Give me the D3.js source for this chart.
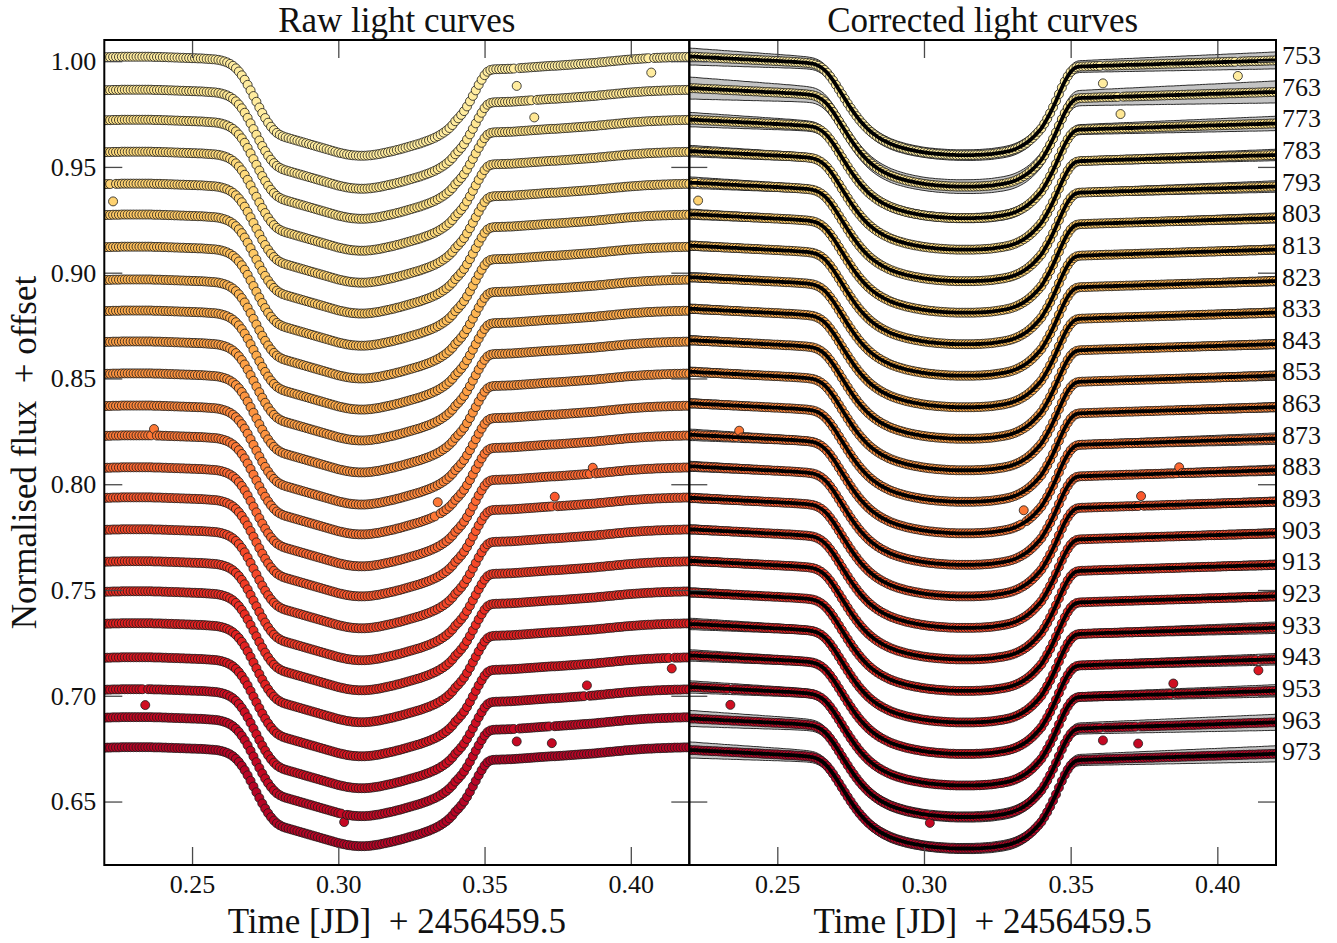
<!DOCTYPE html>
<html>
<head>
<meta charset="utf-8">
<script src="https://cdn.jsdelivr.net/npm/d3@7"></script>
<style>
  body { margin: 0; background: #fff; }
  text { font-family: "Liberation Serif", "DejaVu Serif", serif; fill: #111; }
</style>
</head>
<body>
<svg id="chart" width="1337" height="943"></svg>
<script>
// ---------------- DATA ----------------
const wavelengths = [753, 763, 773, 783, 793, 803, 813, 823, 833, 843, 853, 863,
                     873, 883, 893, 903, 913, 923, 933, 943, 953, 963, 973];

// flux level of each raw light curve at the start of the window (incl. offset)
const rawLevel = [1.0018, 0.9862, 0.9720, 0.9569, 0.9418, 0.9272, 0.9120, 0.8965,
                  0.8818, 0.8672, 0.8521, 0.8369, 0.8228, 0.8077, 0.7935, 0.7784,
                  0.7633, 0.7491, 0.7340, 0.7179, 0.7028, 0.6896, 0.6754];

// flux level of each corrected light curve / model at the start of the window
const corrLevel = [1.0022, 0.9873, 0.9724, 0.9575, 0.9426, 0.9277, 0.9128, 0.8979,
                   0.8830, 0.8681, 0.8532, 0.8383, 0.8234, 0.8085, 0.7936, 0.7787,
                   0.7638, 0.7489, 0.7340, 0.7191, 0.7042, 0.6893, 0.6744];

// cadence of the exposures
const tStart = 0.220, cadence = 0.001;

// raw light-curve shape, flux change relative to the start level, in units of 1e-4
const rawShape = [
  0, 1, 1, 2, 2, 2, 3, 3, 3, 3,
  3, 3, 3, 3, 3, 3, 3, 2, 2, 2,
  1, 1, 0, 0, -1, -1, -2, -2, -3, -3,
  -4, -4, -5, -5, -6, -7, -8, -9, -10, -12,
  -15, -19, -24, -31, -40, -52, -67, -85, -106, -130,
  -156, -183, -210, -237, -263, -287, -309, -328, -344, -357,
  -366, -373, -378, -382, -386, -390, -394, -398, -402, -406,
  -410, -414, -418, -422, -426, -430, -434, -438, -442, -446,
  -450, -453, -456, -459, -461, -463, -464, -465, -465, -465,
  -464, -463, -461, -459, -457, -454, -451, -448, -445, -442,
  -438, -435, -431, -427, -423, -419, -415, -411, -407, -402,
  -397, -392, -386, -380, -373, -365, -356, -346, -334, -320,
  -302, -288, -272, -254, -232, -208, -182, -156, -130, -106,
  -84, -68, -60, -57, -56, -56, -55, -55, -54, -54,
  -53, -52, -51, -50, -49, -48, -47, -46, -45, -44,
  -43, -42, -41, -40, -40, -39, -38, -37, -36, -35,
  -34, -33, -32, -31, -30, -29, -28, -27, -26, -24,
  -23, -22, -20, -19, -18, -16, -15, -14, -12, -11,
  -10, -9, -8, -7, -6, -5, -4, -4, -3, -2,
  -2, -1, -1, 0, 0, 1, 1, 1, 2, 2,
  2
];

// corrected light-curve / model shape, relative to the start level, in units of 1e-4
const corrShape = [
  0, -1, -1, -2, -3, -4, -4, -5, -6, -6,
  -7, -8, -9, -9, -10, -11, -11, -12, -13, -14,
  -14, -15, -16, -16, -17, -18, -19, -19, -20, -21,
  -21, -22, -23, -24, -24, -25, -26, -27, -28, -29,
  -30, -32, -34, -38, -44, -52, -63, -77, -94, -113,
  -134, -156, -178, -200, -222, -243, -263, -282, -300, -316,
  -331, -345, -357, -368, -378, -387, -395, -402, -409, -415,
  -420, -425, -429, -433, -437, -440, -443, -446, -448, -451,
  -453, -455, -457, -458, -460, -461, -462, -463, -464, -465,
  -465, -466, -466, -466, -466, -466, -466, -466, -465, -465,
  -464, -463, -462, -461, -459, -457, -455, -453, -450, -447,
  -443, -438, -432, -425, -417, -408, -397, -385, -371, -356,
  -340, -318, -294, -268, -240, -210, -178, -147, -118, -93,
  -73, -59, -51, -48, -47, -47, -46, -46, -45, -45,
  -44, -44, -43, -43, -43, -42, -42, -41, -41, -40,
  -40, -40, -39, -39, -38, -38, -37, -37, -37, -36,
  -36, -35, -35, -34, -34, -34, -33, -33, -32, -32,
  -31, -31, -31, -30, -30, -29, -29, -28, -28, -28,
  -27, -27, -26, -26, -25, -25, -25, -24, -24, -23,
  -23, -22, -22, -22, -21, -21, -20, -20, -19, -19,
  -18
];

// half width of the grey model band of each curve (flux)
const bandHalf = [0.0040, 0.0052, 0.0034, 0.0027, 0.0027, 0.0024, 0.0022, 0.0022,
                  0.0022, 0.0022, 0.0022, 0.0022, 0.0027, 0.0024, 0.0022, 0.0022,
                  0.0022, 0.0022, 0.0027, 0.0027, 0.0029, 0.0038, 0.0038];
const bandTimeKnots  = [0.22, 0.262, 0.30, 0.355, 0.42];
const bandTimeFactor = [1.0, 0.7, 0.6, 0.7, 1.0];

// visible outliers: [curve index, time, deviation from the curve (flux)]
const outliers = [
  [0, 0.361, -0.0083], [0, 0.407, -0.0068], [1, 0.367, -0.0082],
  [4, 0.223, -0.0083], [12, 0.237, 0.0031], [12, 0.334, 0.0060],
  [13, 0.387, 0.0028], [14, 0.374, 0.0046], [19, 0.414, -0.0050],
  [20, 0.234, -0.0075], [20, 0.385, 0.0050], [21, 0.302, -0.0037],
  [21, 0.361, -0.0060], [21, 0.373, -0.0080]
];

// flux levels where the wavelength labels sit (first and last label)
const labelLevelRange = [1.0027, 0.6736];

const xDomain = [0.22, 0.42];
const yDomain = [0.62, 1.01];
const xTicks = [0.25, 0.30, 0.35, 0.40];
const yTicks = [0.65, 0.70, 0.75, 0.80, 0.85, 0.90, 0.95, 1.00];

// ---------------- LAYOUT ----------------
const svg = d3.select("#chart");
const yTop = 40, yBottom = 865;
const leftX0 = 104.3, midX = 689.3, rightX1 = 1276;
const TICK = 18;

const xRaw = d3.scaleLinear().domain(xDomain).range([leftX0, midX]);
const xCor = d3.scaleLinear().domain(xDomain).range([midX, rightX1]);
const y = d3.scaleLinear().domain(yDomain).range([yBottom, yTop]);
const colorPos = d3.scaleLinear().domain([0, wavelengths.length - 1]).range([0.13, 0.88]);
const color = i => d3.interpolateYlOrRd(colorPos(i));
const bandFactor = d3.scaleLinear().domain(bandTimeKnots).range(bandTimeFactor).clamp(true);
const labelLevel = d3.scaleLinear().domain([0, wavelengths.length - 1]).range(labelLevelRange);

svg.append("rect").attr("width", 1337).attr("height", 943).attr("fill", "#fff");

const defs = svg.append("defs");
defs.append("clipPath").attr("id", "clipL").append("rect")
  .attr("x", leftX0).attr("y", yTop).attr("width", midX - leftX0).attr("height", yBottom - yTop);
defs.append("clipPath").attr("id", "clipR").append("rect")
  .attr("x", midX).attr("y", yTop).attr("width", rightX1 - midX).attr("height", yBottom - yTop);

const times = rawShape.map((_, k) => +(tStart + k * cadence).toFixed(3));
const idxOf = t => Math.round((t - tStart) / cadence);

function series(level, shape, i) {
  const s = times.map((t, k) => ({ t, f: level + shape[k] * 1e-4 }));
  outliers.filter(o => o[0] === i).forEach(o => {
    const k = idxOf(o[1]);
    s[k] = { t: times[k], f: level + shape[k] * 1e-4 + o[2] };
  });
  return s;
}

// ---------------- RAW PANEL ----------------
const gL = svg.append("g").attr("clip-path", "url(#clipL)");
wavelengths.forEach((w, i) => {
  gL.append("g").selectAll("circle")
    .data(series(rawLevel[i], rawShape, i))
    .join("circle")
    .attr("cx", d => xRaw(d.t))
    .attr("cy", d => y(d.f))
    .attr("r", 4.5)
    .attr("fill", color(i))
    .attr("stroke", "#1a1a1a")
    .attr("stroke-width", 0.8);
});

// ---------------- CORRECTED PANEL ----------------
const gR = svg.append("g").attr("clip-path", "url(#clipR)");
wavelengths.forEach((w, i) => {
  const model = times.map((t, k) => ({ t, f: corrLevel[i] + corrShape[k] * 1e-4 }));
  const area = d3.area()
    .x(d => xCor(d.t))
    .y0(d => y(d.f - bandHalf[i] * bandFactor(d.t)))
    .y1(d => y(d.f + bandHalf[i] * bandFactor(d.t)))
    .curve(d3.curveMonotoneX);
  gR.append("path").datum(model).attr("d", area)
    .attr("fill", "#c4c4c4").attr("stroke", "#2b2b2b").attr("stroke-width", 1);

  gR.append("g").selectAll("circle")
    .data(series(corrLevel[i], corrShape, i))
    .join("circle")
    .attr("cx", d => xCor(d.t))
    .attr("cy", d => y(d.f))
    .attr("r", 4.5)
    .attr("fill", color(i))
    .attr("stroke", "#1a1a1a")
    .attr("stroke-width", 0.8);

  const line = d3.line().x(d => xCor(d.t)).y(d => y(d.f)).curve(d3.curveMonotoneX);
  gR.append("path").datum(model).attr("d", line)
    .attr("fill", "none").attr("stroke", "#000").attr("stroke-width", 3.8);
});

// ---------------- AXES ----------------
const fmt = d3.format(".2f");
function styleAxis(g) {
  g.select(".domain").remove();
  g.selectAll(".tick line").attr("stroke", "#4a4a4a").attr("stroke-width", 1.3);
  g.selectAll(".tick text").attr("font-size", 26)
    .attr("font-family", '"Liberation Serif", "DejaVu Serif", serif').attr("fill", "#111");
}
[xRaw, xCor].forEach(xs => {
  svg.append("g").attr("transform", `translate(0,${yBottom})`)
    .call(d3.axisBottom(xs).tickValues(xTicks).tickFormat(fmt).tickSize(-TICK).tickPadding(10))
    .call(styleAxis);
  svg.append("g").attr("transform", `translate(0,${yTop})`)
    .call(d3.axisTop(xs).tickValues(xTicks).tickFormat("").tickSize(-TICK))
    .call(styleAxis);
});
svg.append("g").attr("transform", `translate(${leftX0},0)`)
  .call(d3.axisLeft(y).tickValues(yTicks).tickFormat(fmt).tickSize(-TICK).tickPadding(8))
  .call(styleAxis);
[midX, rightX1].forEach(xp => {
  svg.append("g").attr("transform", `translate(${xp},0)`)
    .call(d3.axisRight(y).tickValues(yTicks).tickFormat("").tickSize(-TICK))
    .call(styleAxis);
});
svg.append("g").attr("transform", `translate(${midX},0)`)
  .call(d3.axisLeft(y).tickValues(yTicks).tickFormat("").tickSize(-TICK))
  .call(styleAxis);

// frames
[[leftX0, midX], [midX, rightX1]].forEach(([a, b]) => {
  svg.append("rect").attr("x", a).attr("y", yTop).attr("width", b - a).attr("height", yBottom - yTop)
    .attr("fill", "none").attr("stroke", "#000").attr("stroke-width", 2);
});

// ---------------- TEXT ----------------
svg.append("text").attr("x", (leftX0 + midX) / 2).attr("y", 32)
  .attr("text-anchor", "middle").attr("font-size", 35).text("Raw light curves");
svg.append("text").attr("x", (midX + rightX1) / 2).attr("y", 32)
  .attr("text-anchor", "middle").attr("font-size", 35).text("Corrected light curves");

const xLabel = "Time [JD]\u00a0\u00a0+\u00a02456459.5";
svg.append("text").attr("x", (leftX0 + midX) / 2).attr("y", 933)
  .attr("text-anchor", "middle").attr("font-size", 35).text(xLabel);
svg.append("text").attr("x", (midX + rightX1) / 2).attr("y", 933)
  .attr("text-anchor", "middle").attr("font-size", 35).text(xLabel);

svg.append("text").attr("transform", `translate(36,${(yTop + yBottom) / 2}) rotate(-90)`)
  .attr("text-anchor", "middle").attr("font-size", 35)
  .text("Normalised flux\u00a0\u00a0+\u00a0offset");

svg.append("g").selectAll("text").data(wavelengths).join("text")
  .attr("x", 1282)
  .attr("y", (d, i) => y(labelLevel(i)))
  .attr("dy", "0.33em")
  .attr("font-size", 26)
  .text(d => d);
</script>
</body>
</html>
